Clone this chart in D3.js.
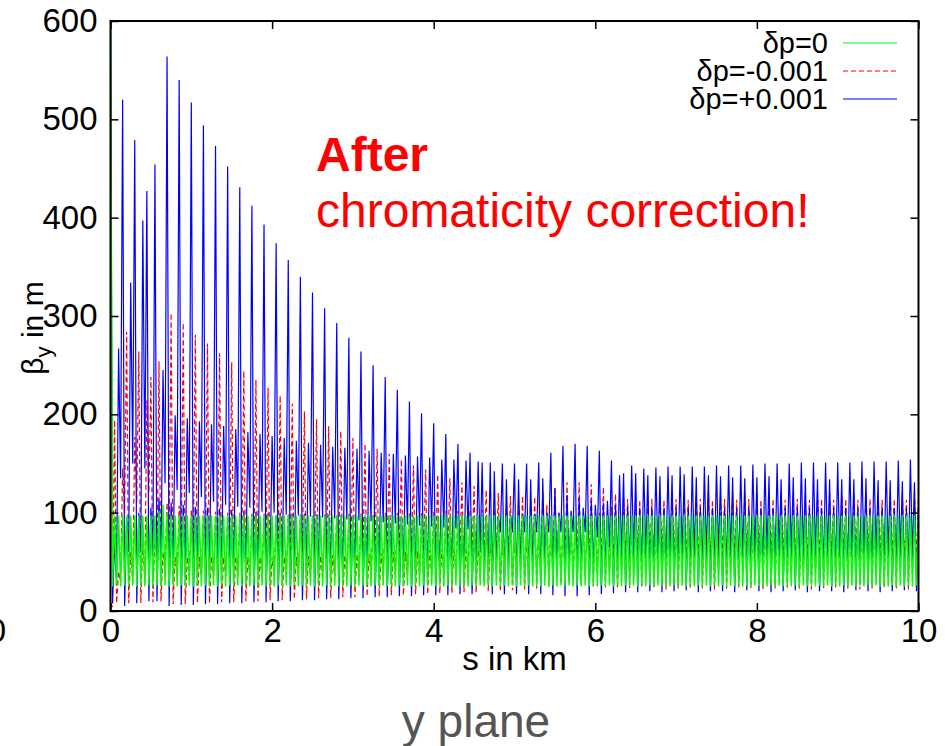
<!DOCTYPE html>
<html>
<head>
<meta charset="utf-8">
<script src="https://cdn.jsdelivr.net/npm/d3@7"></script>
<style>
  body { margin: 0; background: #fff; }
  text { font-family: "Liberation Sans", Arial, Helvetica, sans-serif; }
</style>
</head>
<body>
<svg id="chart" width="945" height="746"></svg>
<script>
// lattice: one focusing quad every 50 m, peaks at the quads, minima half way
const cellLength = 0.05
const xTicks = [0, 2, 4, 6, 8, 10]
const yTicks = [0, 100, 200, 300, 400, 500, 600]
const seriesNames = ['δp=0', 'δp=-0.001', 'δp=+0.001']

// beta_y at each focusing quad (m), delta p = 0
const greenPeak = [650,
  97, 97, 97, 97, 97, 97, 97, 97, 97, 97, 97, 102, 108, 100,
  97, 97, 97, 97, 97, 97, 97, 97, 97, 97, 97, 97, 97, 97, 97,
  97, 97, 97, 97, 97, 97, 97, 97, 97, 97, 97, 97, 97, 97, 97,
  97, 97, 97, 97, 97, 97, 97, 97, 97, 97, 97, 97, 97, 97, 97,
  97, 97, 97, 97, 97, 97, 97, 97, 97, 97, 97, 97, 97, 97, 97,
  97, 97, 97, 97, 97, 97, 97, 97, 97, 97, 97, 97, 97, 97, 97,
  97, 97, 97, 97, 97, 97, 97, 97, 97, 97, 97, 97, 97, 97, 97,
  97, 97, 97, 97, 97, 97, 97, 97, 97, 97, 97, 97, 97, 97, 97,
  97, 97, 97, 97, 97, 97, 97, 97, 97, 97, 97, 97, 97, 97, 97,
  97, 97, 97, 97, 97, 97, 97, 97, 97, 97, 97, 97, 97, 97, 97,
  97, 97, 97, 97, 97, 97, 97, 97, 97, 97, 97, 97, 97, 97, 97,
  97, 97, 97, 97, 97, 97, 97, 97, 97, 97, 97, 97, 97, 97, 97,
  97, 97, 97, 97, 97, 97, 97, 97, 97, 97, 97, 97, 97, 97, 97,
  97, 97, 97, 97, 97, 97, 97, 97, 97, 97, 97, 97, 97, 97, 97,
  97, 97, 97, 97, 97, 97, 97, 97, 97, 97, 97, 97, 97, 97, 97]
// beta_y half way between the quads, delta p = 0
const greenTrough = [
  25, 26, 25, 26, 25, 26, 25, 26, 25, 26, 25, 26, 25, 26, 25, 26, 25, 26, 25, 26,
  25, 26, 25, 26, 25, 26, 25, 26, 25, 26, 25, 26, 25, 26, 25, 26, 25, 26, 25, 26,
  25, 26, 25, 26, 25, 26, 25, 26, 25, 26, 25, 26, 25, 26, 25, 26, 25, 26, 25, 26,
  25, 26, 25, 26, 25, 26, 25, 26, 25, 26, 25, 26, 25, 26, 25, 26, 25, 26, 25, 26,
  25, 26, 25, 26, 25, 26, 25, 26, 25, 26, 25, 26, 25, 26, 25, 26, 25, 26, 25, 26,
  25, 26, 25, 26, 25, 26, 25, 26, 25, 26, 25, 26, 25, 26, 25, 26, 25, 26, 25, 26,
  25, 26, 25, 26, 25, 26, 25, 26, 25, 26, 25, 26, 25, 26, 25, 26, 25, 26, 25, 26,
  25, 26, 25, 26, 25, 26, 25, 26, 25, 26, 25, 26, 25, 26, 25, 26, 25, 26, 25, 26,
  25, 26, 25, 26, 25, 26, 25, 26, 25, 26, 25, 26, 25, 26, 25, 26, 25, 26, 25, 26,
  25, 26, 25, 26, 25, 26, 25, 26, 25, 26, 25, 26, 25, 26, 25, 26, 25, 26, 25, 26]

// delta p = -0.001
const redPeak = [8, 194, 40, 145, 284, 60, 177, 264, 70, 214, 238, 85, 254, 60,
  110, 303, 55, 107, 293, 55, 103, 281, 55, 102, 272, 55, 101, 262, 55,
  100, 253, 55, 100, 244, 55, 99, 235, 55, 99, 227, 55, 98, 219, 55,
  98, 211, 55, 98, 203, 56, 98, 195, 56, 98, 188, 57, 98, 183, 57,
  99, 176, 58, 99, 170, 58, 99, 165, 59, 100, 160, 60, 100, 154, 60,
  100, 148, 61, 101, 144, 62, 101, 139, 63, 102, 135, 64, 102, 131, 65,
  103, 127, 66, 103, 123, 68, 104, 120, 70, 105, 117, 72, 108, 117, 75,
  114, 116, 78, 121, 108, 82, 126, 100, 86, 131, 96, 90, 131, 93, 95,
  129, 92, 100, 126, 91, 106, 119, 90, 116,
  114, 90, 119, 113, 90, 118, 114, 89, 120, 113, 90, 119, 114, 90, 118,
  113, 89, 119, 114, 90, 120, 113, 90, 118, 114, 89, 119, 113, 90, 120,
  114, 90, 119, 113, 89, 118, 114, 90, 120, 113, 90, 119, 114, 89, 118,
  113, 90, 119, 114, 90, 120, 113, 89, 118, 114, 90, 119, 113, 90, 120,
  114, 89, 119, 113, 90, 118, 114, 90, 120, 113, 89, 119,
  114]
const redTrough = [4, 8, 30, 100, 8, 30, 110, 8, 30, 120, 9, 40, 10, 40,
  60, 7, 35, 60, 7, 35, 60, 8, 35, 60, 8, 35, 60, 9, 35,
  60, 9, 35, 60, 10, 35, 60, 10, 35, 60, 11, 35, 60, 11, 35,
  60, 12, 35, 60, 12, 35, 60, 13, 35, 60, 13, 35, 60, 14, 35,
  60, 14, 35, 60, 15, 35, 60, 15, 36, 60, 16, 36, 60, 16, 37,
  60, 17, 37, 60, 17, 38, 60, 18, 38, 60, 18, 39, 60, 19, 39,
  60, 19, 40, 58, 20, 40, 56, 20, 41, 54, 21, 42, 50, 22, 43,
  45, 23, 44, 40, 25, 45, 35, 28, 46, 30, 32, 47, 27, 36, 48,
  25, 40, 49, 24, 42, 50, 23, 44, 50,
  23, 45, 50, 24, 45, 50, 23, 45, 50, 22, 45, 50, 23, 45, 50,
  24, 45, 50, 23, 45, 50, 22, 45, 50, 23, 45, 50, 24, 45, 50,
  23, 45, 50, 22, 45, 50, 23, 45, 50, 24, 45, 50, 23, 45, 50,
  22, 45, 50, 23, 45, 50, 24, 45, 50, 23, 45, 50, 22, 45, 50,
  23, 45, 50, 24, 45, 50, 23, 45, 50, 22, 45, 50]

// delta p = +0.001
const bluePeak = [640, 70, 267, 520, 95, 334, 479, 100, 397, 427, 105, 454, 115, 245,
  564, 110, 199, 540, 108, 196, 517, 106, 193, 494, 105, 190, 473, 104, 188,
  452, 103, 185, 431, 102, 182, 412, 101, 180, 393, 100, 178, 374, 100, 176,
  357, 99, 173, 340, 99, 171, 324, 98, 169, 308, 98, 167, 293, 97, 166,
  278, 97, 165, 264, 97, 163, 250, 96, 161, 238, 96, 160, 225, 96, 158,
  213, 96, 157, 201, 96, 156, 191, 96, 154, 180, 96, 154, 170, 96, 153,
  161, 96, 152, 151, 97, 151, 142, 97, 150, 134, 98, 150, 134, 98, 150,
  134, 99, 151, 135, 100, 161, 125, 100, 168, 118, 102, 170, 115, 105, 168,
  112, 108, 163, 110, 112, 153, 108, 138, 140,
  106, 148, 140, 105, 145, 138, 105, 146, 137, 105, 147, 138, 105, 147, 139,
  105, 147, 136, 105, 147, 138, 105, 148, 137, 105, 148, 136, 105, 148, 135,
  105, 149, 136, 105, 150, 137, 105, 150, 134, 105, 150, 136, 105, 151, 135,
  105, 151, 134, 105, 151, 134, 105, 151, 134, 105, 151, 134, 105, 152, 135,
  105, 152, 133, 105, 152, 133, 105, 153, 132, 105, 154, 131,
  105]
const blueTrough = [8, 30, 135, 5, 60, 150, 8, 60, 145, 10, 60, 10, 50, 130,
  5, 40, 123, 6, 40, 120, 6, 40, 116, 7, 40, 111, 7, 40, 108,
  8, 40, 106, 8, 40, 105, 9, 40, 101, 9, 40, 100, 10, 40, 98,
  10, 40, 97, 11, 40, 96, 11, 40, 95, 12, 40, 94, 12, 40, 93,
  13, 40, 92, 13, 40, 91, 14, 40, 90, 14, 40, 89, 15, 40, 88,
  15, 40, 87, 16, 40, 86, 16, 40, 85, 16, 40, 84, 17, 40, 83,
  17, 40, 60, 30, 45, 17, 45, 80, 17, 45, 80, 17, 45, 80, 17,
  45, 80, 17, 45, 80, 16, 45, 80, 15, 45, 80, 15, 45, 80, 16,
  45, 75, 17, 45, 65, 18, 45, 55, 19,
  45, 55, 19, 45, 55, 20, 45, 55, 19, 45, 55, 20, 45, 55, 21,
  45, 55, 19, 45, 55, 20, 45, 55, 20, 45, 55, 19, 45, 55, 21,
  45, 55, 20, 45, 55, 19, 45, 55, 20, 45, 55, 21, 45, 55, 19,
  45, 55, 20, 45, 55, 20, 45, 55, 19, 45, 55, 21, 45, 55, 20,
  45, 55, 19, 45, 55, 20, 45, 55, 21, 45, 55, 20]

const series = [
  { name: seriesNames[0], peaks: greenPeak, troughs: greenTrough, color: '#00ff00', dash: null, width: 1.5 },
  { name: seriesNames[1], peaks: redPeak, troughs: redTrough, color: '#ff0000', dash: '5,3', width: 1.2 },
  { name: seriesNames[2], peaks: bluePeak, troughs: blueTrough, color: '#0000ff', dash: null, width: 1.2 }
]
// green is laid on top so the delta p = 0 band stays visible
const drawOrder = [series[1], series[2], series[0]]

const margin = { left: 110.5, right: 918.5, top: 21, bottom: 611 }
const fontSize = 33

let svg = d3.select('#chart')

svg.append('rect')
  .attr('width', 945)
  .attr('height', 746)
  .attr('fill', '#fff')

let x = d3.scaleLinear().domain([0, 10]).range([margin.left, margin.right])
let y = d3.scaleLinear().domain([0, 600]).range([margin.bottom, margin.top])

svg.append('clipPath')
  .attr('id', 'plotClip')
  .append('rect')
  .attr('x', margin.left)
  .attr('y', margin.top)
  .attr('width', margin.right - margin.left)
  .attr('height', margin.bottom - margin.top)

// peak at the quad, minimum half a cell later
function toPoints(peaks, troughs) {
  let pts = []
  peaks.forEach((p, i) => {
    pts.push([i * cellLength, p])
    if (i < troughs.length) pts.push([i * cellLength + cellLength / 2, troughs[i]])
  })
  return pts
}

let line = d3.line()
  .x(d => x(d[0]))
  .y(d => y(d[1]))

let plot = svg.append('g').attr('clip-path', 'url(#plotClip)')

plot.selectAll('path.beta')
  .data(drawOrder)
  .enter().append('path')
  .attr('class', 'beta')
  .attr('d', d => line(toPoints(d.peaks, d.troughs)))
  .attr('fill', 'none')
  .attr('stroke', d => d.color)
  .attr('stroke-width', d => d.width)
  .attr('stroke-dasharray', d => d.dash)

// axes, ticks pointing inwards on all four sides
function styleAxis(g) {
  g.select('.domain').remove()
  g.selectAll('.tick line').attr('stroke', '#000').attr('stroke-width', 1.5)
  g.selectAll('.tick text')
    .attr('fill', '#000')
    .style('font-size', fontSize + 'px')
    .style('font-family', '"Liberation Sans", Arial, Helvetica, sans-serif')
}

svg.append('g')
  .attr('transform', 'translate(0,' + margin.bottom + ')')
  .call(d3.axisBottom(x).tickValues(xTicks).tickSize(-8).tickPadding(8))
  .call(styleAxis)

svg.append('g')
  .attr('transform', 'translate(0,' + margin.top + ')')
  .call(d3.axisTop(x).tickValues(xTicks).tickSize(-8).tickFormat(''))
  .call(styleAxis)

svg.append('g')
  .attr('transform', 'translate(' + margin.left + ',0)')
  .call(d3.axisLeft(y).tickValues(yTicks).tickSize(-8).tickPadding(13))
  .call(styleAxis)

svg.append('g')
  .attr('transform', 'translate(' + margin.right + ',0)')
  .call(d3.axisRight(y).tickValues(yTicks).tickSize(-8).tickFormat(''))
  .call(styleAxis)

svg.append('rect')
  .attr('x', margin.left)
  .attr('y', margin.top)
  .attr('width', margin.right - margin.left)
  .attr('height', margin.bottom - margin.top)
  .attr('fill', 'none')
  .attr('stroke', '#000')
  .attr('stroke-width', 2)

// stray "0" of the neighbouring panel at the left edge
svg.append('text')
  .attr('x', -3)
  .attr('y', 642)
  .attr('text-anchor', 'middle')
  .style('font-size', fontSize + 'px')
  .text('0')

svg.append('text')
  .attr('x', (margin.left + margin.right) / 2)
  .attr('y', 670)
  .attr('text-anchor', 'middle')
  .style('font-size', fontSize + 'px')
  .text('s in km')

let yLabel = svg.append('text')
  .attr('transform', 'translate(43,328) rotate(-90)')
  .attr('text-anchor', 'middle')
  .style('font-size', '30px')
yLabel.append('tspan').text('β')
yLabel.append('tspan').attr('dy', 8).style('font-size', '22px').text('y')
yLabel.append('tspan').attr('dy', -8).text(' in m')

// legend
let legend = svg.append('g')
  .selectAll('g')
  .data(series)
  .enter().append('g')
  .attr('transform', (d, i) => 'translate(0,' + (43 + i * 28) + ')')

legend.append('text')
  .attr('x', 828)
  .attr('dy', '0.36em')
  .attr('text-anchor', 'end')
  .style('font-size', '29px')
  .text(d => d.name)

legend.append('line')
  .attr('x1', 843)
  .attr('x2', 897)
  .attr('stroke', d => d.color)
  .attr('stroke-width', 1.2)
  .attr('stroke-dasharray', d => d.dash)

// annotation
svg.append('text')
  .attr('x', 316)
  .attr('y', 171)
  .attr('fill', '#ff0000')
  .style('font-size', '48px')
  .style('font-weight', 'bold')
  .text('After')

svg.append('text')
  .attr('x', 316)
  .attr('y', 227)
  .attr('fill', '#ff0000')
  .style('font-size', '48px')
  .text('chromaticity correction!')

svg.append('text')
  .attr('x', 476)
  .attr('y', 737)
  .attr('text-anchor', 'middle')
  .attr('fill', '#555555')
  .style('font-size', '46px')
  .text('y plane')
</script>
</body>
</html>
